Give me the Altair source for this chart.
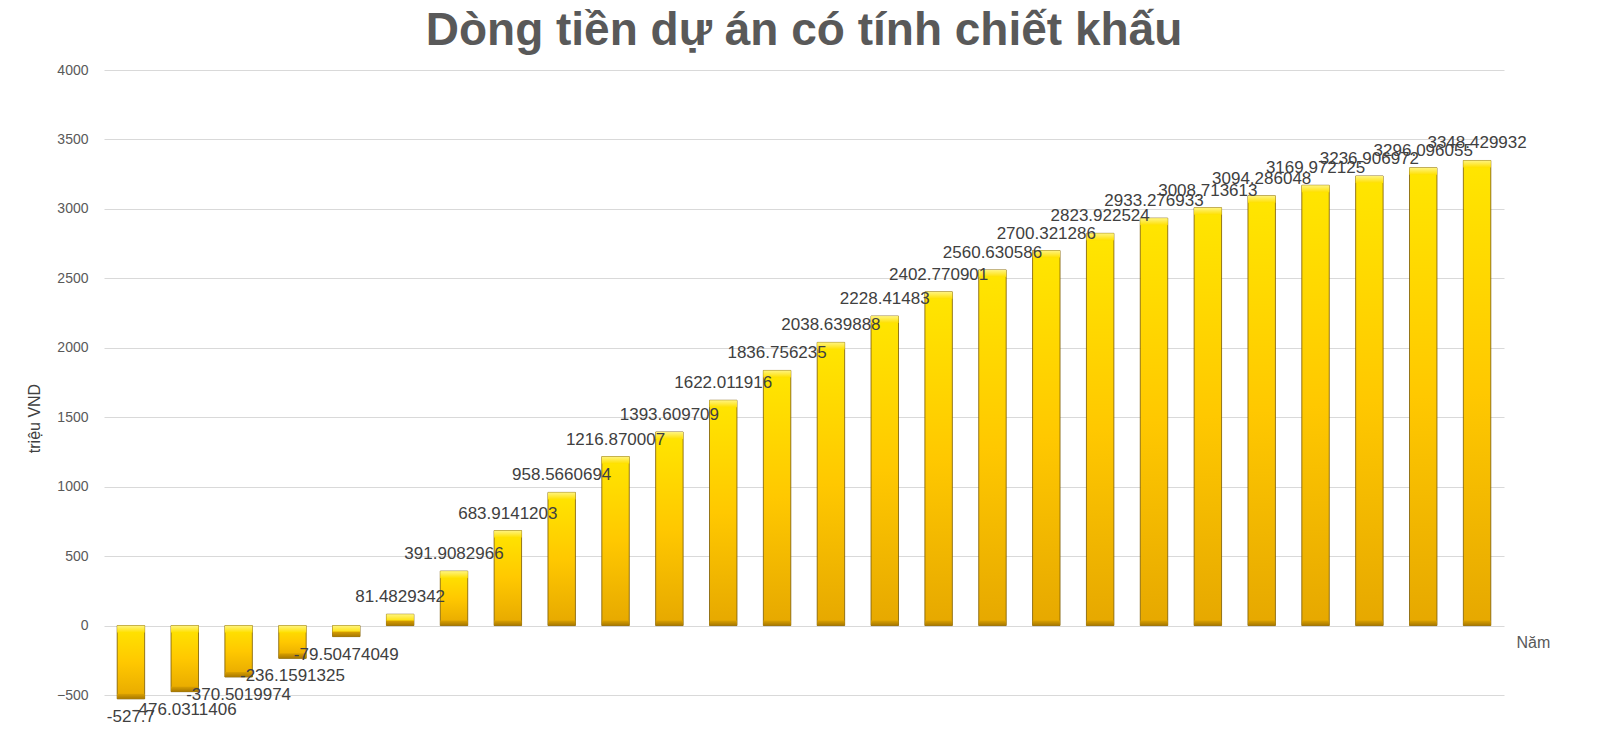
import altair as alt
import pandas as pd

years = list(range(1, 27))
values = [-527.7, -476.0311406, -370.5019974, -236.1591325, -79.50474049,
          81.4829342, 391.9082966, 683.9141203, 958.5660694, 1216.870007,
          1393.609709, 1622.011916, 1836.756235, 2038.639888, 2228.41483,
          2402.770901, 2560.630586, 2700.321286, 2823.922524, 2933.276933,
          3008.713613, 3094.286048, 3169.972125, 3236.906972, 3296.096055,
          3348.429932]
labels = ["-527.7", "-476.0311406", "-370.5019974", "-236.1591325", "-79.50474049",
          "81.4829342", "391.9082966", "683.9141203", "958.5660694", "1216.870007",
          "1393.609709", "1622.011916", "1836.756235", "2038.639888", "2228.41483",
          "2402.770901", "2560.630586", "2700.321286", "2823.922524", "2933.276933",
          "3008.713613", "3094.286048", "3169.972125", "3236.906972", "3296.096055",
          "3348.429932"]
y_ticks = [-500, 0, 500, 1000, 1500, 2000, 2500, 3000, 3500, 4000]

df = pd.DataFrame({"year": years, "value": values, "label": labels})

font = "Liberation Sans"

x_enc = alt.X("year:O", title="Năm",
              scale=alt.Scale(paddingInner=0.49, paddingOuter=0.245),
              axis=alt.Axis(labels=False, ticks=False, domain=False,
                            titleX=1412, titleY=-53, titleAlign="left",
                            titleBaseline="middle", titleFontWeight="normal",
                            titleFontSize=16, titleColor="#595959", titleFont=font))
y_enc = alt.Y("value:Q", title="triệu VND",
              scale=alt.Scale(domain=[-500, 4000], nice=False, zero=False),
              axis=alt.Axis(values=y_ticks, format="d", domain=False, ticks=False,
                            gridColor="#D9D9D9", gridWidth=1,
                            labelColor="#595959", labelFontSize=14, labelFont=font,
                            labelPadding=16,
                            titleFontWeight="normal", titleFontSize=16,
                            titleColor="#404040", titleFont=font,
                            titleBaseline="middle",
                            titleX=-70, titleY=348))


def grad(c0, c1, c2=None):
    stops = [alt.GradientStop(offset=0, color=c0)]
    if c2 is not None:
        stops.append(alt.GradientStop(offset=0.5, color=c1))
        stops.append(alt.GradientStop(offset=1, color=c2))
    else:
        stops.append(alt.GradientStop(offset=1, color=c1))
    return alt.Gradient(gradient="linear", x1=0, x2=0, y1=0, y2=1, stops=stops)


gold = grad("#FFE600", "#FFC800", "#E6A800")
top_bevel = grad("#FFF480", "#FFE000")
bottom_bevel = grad("#D9A000", "#A87800")

base = alt.Chart(df)

bars = base.mark_bar(color=gold, stroke="#7A5A00", strokeWidth=1,
                     strokeOpacity=0.8).encode(x=x_enc, y=y_enc, y2=alt.datum(0))

pos = base.transform_filter("datum.value >= 0")
neg = base.transform_filter("datum.value < 0")

bev_top_pos = pos.mark_bar(color=top_bevel, y2Offset=7).encode(
    x="year:O", y="value:Q", y2="value")
bev_top_neg = neg.mark_bar(color=top_bevel, y2Offset=7).encode(
    x="year:O", y=alt.datum(0), y2=alt.datum(0))
bev_bot_pos = pos.mark_bar(color=bottom_bevel, yOffset=-5).encode(
    x="year:O", y=alt.datum(0), y2=alt.datum(0))
bev_bot_neg = neg.mark_bar(color=bottom_bevel, yOffset=-5).encode(
    x="year:O", y="value:Q", y2="value")

txt_pos = pos.mark_text(
    dy=-12, fontSize=17, color="#404040", font=font, baseline="alphabetic").encode(
    x="year:O", y="value:Q", text="label:N")
txt_neg = neg.mark_text(
    dy=10, fontSize=17, color="#404040", font=font, baseline="top").encode(
    x="year:O", y="value:Q", text="label:N")

chart = alt.layer(bars, bev_top_pos, bev_top_neg, bev_bot_pos, bev_bot_neg,
                  txt_pos, txt_neg).properties(
    width=1400, height=625,
    autosize=alt.AutoSizeParams(type="none"),
    padding={"left": 96, "top": 62, "right": 99, "bottom": 32},
    title=alt.TitleParams("Dòng tiền dự án có tính chiết khấu", fontSize=46,
                          font=font, fontWeight="bold", color="#595959",
                          anchor="middle", offset=8),
).configure_view(stroke=None)

chart.save("out.html", embed_options={"renderer": "svg", "actions": False})
